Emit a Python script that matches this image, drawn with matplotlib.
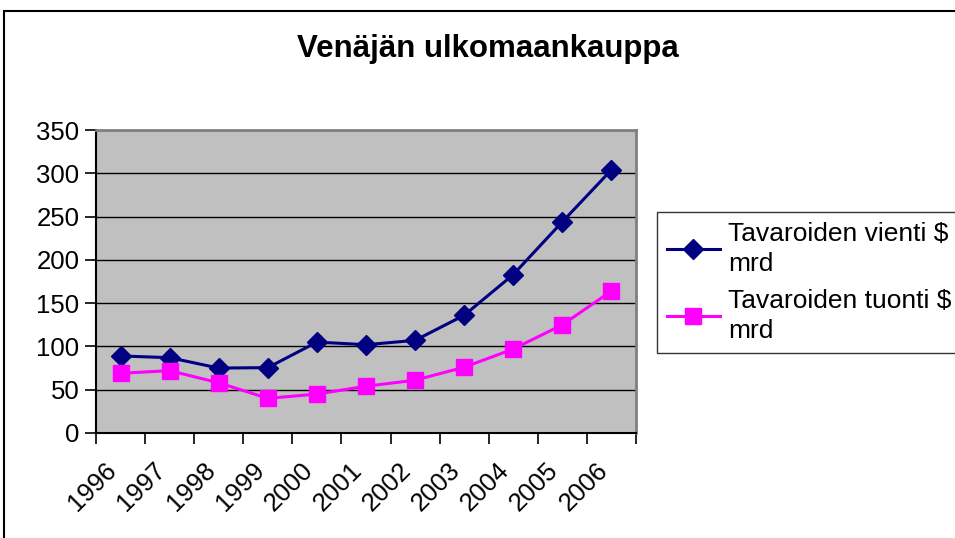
import numpy as np
import matplotlib
matplotlib.use('Agg')
import matplotlib.pyplot as plt
import matplotlib.transforms as mtransforms
from matplotlib.patches import Rectangle

plt.rcParams['font.family'] = ['Liberation Sans', 'DejaVu Sans']

years = ['1996', '1997', '1998', '1999', '2000', '2001',
         '2002', '2003', '2004', '2005', '2006']
vienti = [89, 87, 75, 75.5, 105, 102, 107, 136, 183, 244, 304]
tuonti = [69, 72, 58, 40, 45, 54, 61, 76, 97, 125, 164]
labels = ['Tavaroiden vienti $\nmrd', 'Tavaroiden tuonti $\nmrd']

fig = plt.figure(figsize=(9.55, 5.38), dpi=100)
ax = fig.add_axes([96 / 955, 1 - 433 / 538, 540 / 955, 303 / 538])
ax.set_facecolor('#C0C0C0')

x = np.arange(len(years))
ax.plot(x, vienti, color='#000080', marker='D', markersize=10, linewidth=2.2,
        label=labels[0], zorder=3)
ax.plot(x, tuonti, color='#FF00FF', marker='s', markersize=12, linewidth=2.2,
        label=labels[1], zorder=3)

ax.set_xlim(-0.5, len(years) - 0.5)
ax.set_ylim(0, 350)
ax.set_yticks(np.arange(0, 351, 50))
ax.yaxis.grid(True, color='black', linewidth=1)
ax.set_axisbelow(True)

# ticks at category borders, labels at centres
ax.set_xticks(np.arange(-0.5, len(years), 1))
ax.set_xticklabels([])
ax.set_xticks(x, minor=True)
ax.set_xticklabels(years, minor=True, rotation=45, ha='right',
                   rotation_mode='anchor', fontsize=18.5)
ax.tick_params(axis='x', which='minor', length=0, pad=18)
ax.tick_params(axis='x', which='major', length=8, width=1.2, direction='out')
ax.tick_params(axis='y', length=8, width=1.2, direction='out', labelsize=18.5, pad=4)
shift = mtransforms.ScaledTranslation(-16 / 100, 0, fig.dpi_scale_trans)
for lab in ax.get_xticklabels(minor=True):
    lab.set_transform(lab.get_transform() + shift)

for s in ['top', 'right']:
    ax.spines[s].set_color('#808080')
    ax.spines[s].set_linewidth(2)
for s in ['left', 'bottom']:
    ax.spines[s].set_color('black')
    ax.spines[s].set_linewidth(1.5)

fig.text(488 / 955, 1 - 49 / 538, 'Venäjän ulkomaankauppa', ha='center', va='center',
         fontsize=22.5, fontweight='bold')

leg = fig.legend(loc='upper left', bbox_to_anchor=(657 / 955, 1 - 212 / 538),
                 fontsize=19, frameon=True, fancybox=False, handlelength=2.0,
                 borderpad=0.38, labelspacing=0.5, handletextpad=0.3,
                 borderaxespad=0)
leg.get_frame().set_edgecolor('black')
leg.get_frame().set_linewidth(1)
for t in leg.get_texts():
    t.set_linespacing(1.3)

fig.patches.append(Rectangle((4 / 955, -0.1), 1.2, 1.1 - 11 / 538,
                             transform=fig.transFigure, fill=False,
                             edgecolor='black', linewidth=1.5))

fig.savefig('out.png', dpi=100)
